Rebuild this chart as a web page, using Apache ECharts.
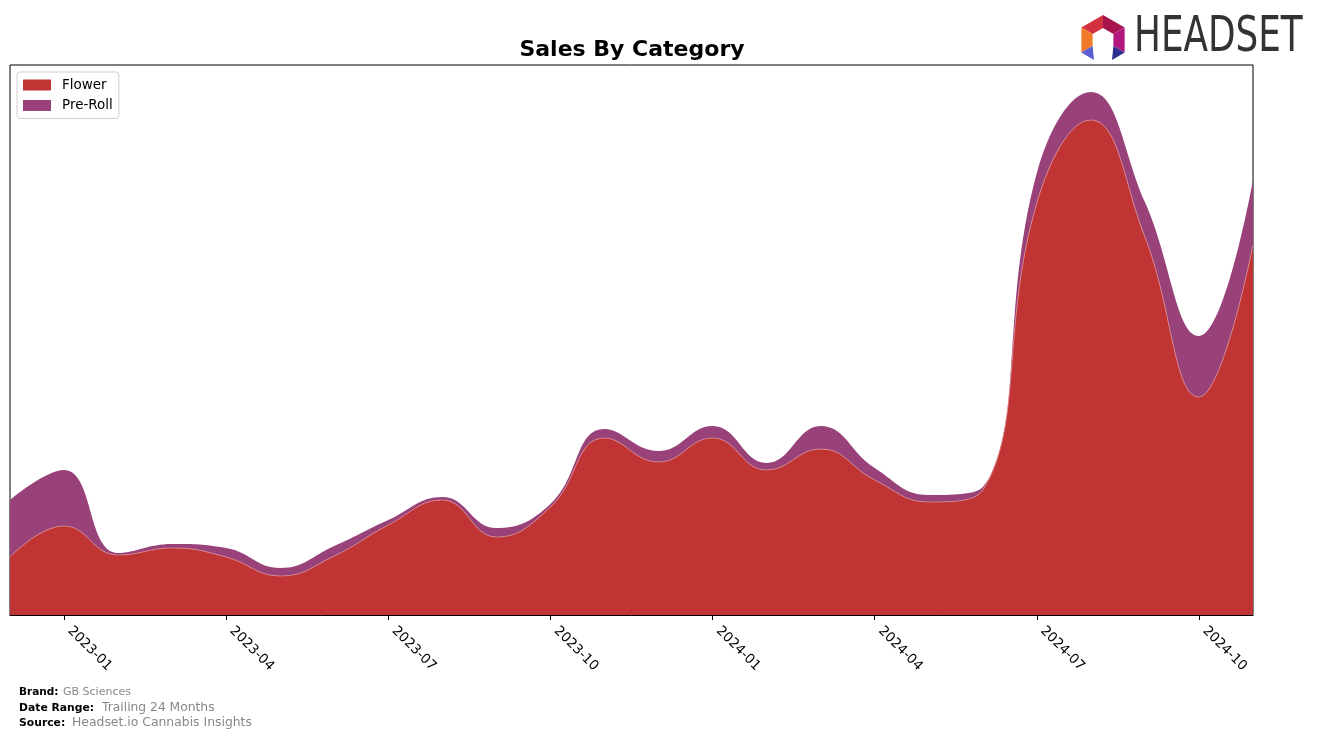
<!DOCTYPE html>
<html>
<head>
<meta charset="utf-8">
<style>
  html, body { margin: 0; padding: 0; background: #ffffff; }
  #chart { width: 1317px; height: 740px; }
</style>
<script src="https://cdn.jsdelivr.net/npm/echarts@6/dist/echarts.min.js"></script>
</head>
<body>
<div id="chart"></div>
<script>
// ---- data ----
const months = ['2022-12','2023-01','2023-02','2023-03','2023-04','2023-05','2023-06','2023-07','2023-08','2023-09','2023-10','2023-11',
                '2023-12','2024-01','2024-02','2024-03','2024-04','2024-05','2024-06','2024-07','2024-08','2024-09','2024-10','2024-11'];
const flower = [58, 89, 60, 67, 58, 39, 59, 90, 115, 78, 108, 177, 153, 177, 145, 166, 135, 113, 125, 412, 495, 378, 218, 370];
const preRoll = [57, 56, 2, 4, 9, 8, 10, 5, 3, 9, 3, 9, 11, 12, 7, 23, 12, 7, 3, 30, 28, 35, 61, 65];
const tickMonths = ['2023-01','2023-04','2023-07','2023-10','2024-01','2024-04','2024-07','2024-10'];

const FLOWER_COLOR = '#c03434';
const PREROLL_COLOR = '#984279';

const chart = echarts.init(document.getElementById('chart'), null, { renderer: 'canvas' });

const showTick = (idx) => tickMonths.indexOf(months[idx]) !== -1;

// logo geometry (hexagon ring with open bottom)
const cx = 1103, cy = 40, R = 25, r = 12;
function pt(angleDeg, rad) {
  const a = angleDeg * Math.PI / 180;
  return [cx + rad * Math.cos(a), cy + rad * Math.sin(a)];
}
function seg(a1, a2) {
  return [pt(a1, R), pt(a2, R), pt(a2, r), pt(a1, r)];
}
const logoSegs = [
  { pts: seg(-150, -90), color: '#d4313f' },
  { pts: seg(-90, -30), color: '#a8154c' },
  { pts: seg(-30, 30), color: '#b3177f' },
  { pts: seg(150, 210), color: '#f07c2a' },
  { pts: [pt(150, R), pt(150, r), [cx - 9, cy + 20]], color: '#5a5fd6' },
  { pts: [pt(30, R), pt(30, r), [cx + 9, cy + 20]], color: '#2e2f8e' }
];

const option = {
  animation: false,
  backgroundColor: '#ffffff',
  grid: { left: 10, right: 64, top: 65, bottom: 125, show: true, borderColor: '#000', borderWidth: 1, backgroundColor: 'transparent' },
  legend: {
    orient: 'vertical', left: 17, top: 72,
    padding: [5, 6, 5, 6], itemGap: 4.5,
    itemWidth: 28, itemHeight: 11,
    backgroundColor: '#fff', borderColor: '#d0d0d0', borderWidth: 1, borderRadius: 3,
    icon: 'rect',
    textStyle: { fontFamily: 'DejaVu Sans', fontSize: 13.5, color: '#000', lineHeight: 16, padding: [0, 0, 0, 6] },
    data: ['Flower', 'Pre-Roll']
  },
  xAxis: {
    type: 'category', data: months, boundaryGap: false,
    axisLine: { lineStyle: { color: '#000', width: 1 } },
    axisTick: { show: true, interval: showTick, length: 5, lineStyle: { color: '#000' } },
    axisLabel: {
      interval: showTick, rotate: -45, margin: 8, padding: [0, 0, 0, 8],
      fontFamily: 'DejaVu Sans', fontSize: 13.5, color: '#000'
    },
    splitLine: { show: false }
  },
  yAxis: {
    type: 'value', min: 0, max: 550,
    axisLine: { show: false }, axisTick: { show: false }, axisLabel: { show: false }, splitLine: { show: false }
  },
  series: [
    {
      name: 'Flower', type: 'line', stack: 'total', data: flower, smooth: 0.45, symbol: 'none',
      itemStyle: { color: FLOWER_COLOR },
      lineStyle: { width: 0.8, color: '#d98c96' },
      areaStyle: { color: FLOWER_COLOR, opacity: 1 },
      z: 3
    },
    {
      name: 'Pre-Roll', type: 'line', stack: 'total', data: preRoll, smooth: 0.45, symbol: 'none',
      itemStyle: { color: PREROLL_COLOR },
      lineStyle: { width: 0 },
      areaStyle: { color: PREROLL_COLOR, opacity: 1 },
      z: 2
    }
  ],
  graphic: [
    { type: 'text', x: 632, y: 50, style: { text: 'Sales By Category', fontFamily: 'DejaVu Sans', fontWeight: 'bold', fontSize: 22, fill: '#000', align: 'center', verticalAlign: 'middle' }, z: 10 },
    { type: 'text', x: 19, y: 692, style: { text: 'Brand:', fontFamily: 'DejaVu Sans', fontWeight: 'bold', fontSize: 10.5, fill: '#000', verticalAlign: 'middle' } },
    { type: 'text', x: 63, y: 692, style: { text: 'GB Sciences', fontFamily: 'DejaVu Sans', fontSize: 11, fill: '#888', verticalAlign: 'middle' } },
    { type: 'text', x: 19, y: 708, style: { text: 'Date Range:', fontFamily: 'DejaVu Sans', fontWeight: 'bold', fontSize: 10.8, fill: '#000', verticalAlign: 'middle' } },
    { type: 'text', x: 102, y: 708, style: { text: 'Trailing 24 Months', fontFamily: 'DejaVu Sans', fontSize: 12.3, fill: '#888', verticalAlign: 'middle' } },
    { type: 'text', x: 19, y: 723, style: { text: 'Source:', fontFamily: 'DejaVu Sans', fontWeight: 'bold', fontSize: 10.8, fill: '#000', verticalAlign: 'middle' } },
    { type: 'text', x: 72, y: 723, style: { text: 'Headset.io Cannabis Insights', fontFamily: 'DejaVu Sans', fontSize: 12.4, fill: '#888', verticalAlign: 'middle' } },
    { type: 'text', x: 1134, y: 38, scaleX: 0.73, style: { text: 'HEADSET', fontFamily: 'DejaVu Sans', fontSize: 49, fill: '#333333', verticalAlign: 'middle' } }
  ].concat(logoSegs.map(s => ({ type: 'polygon', shape: { points: s.pts }, style: { fill: s.color } })))
};

chart.setOption(option);
</script>
</body>
</html>
